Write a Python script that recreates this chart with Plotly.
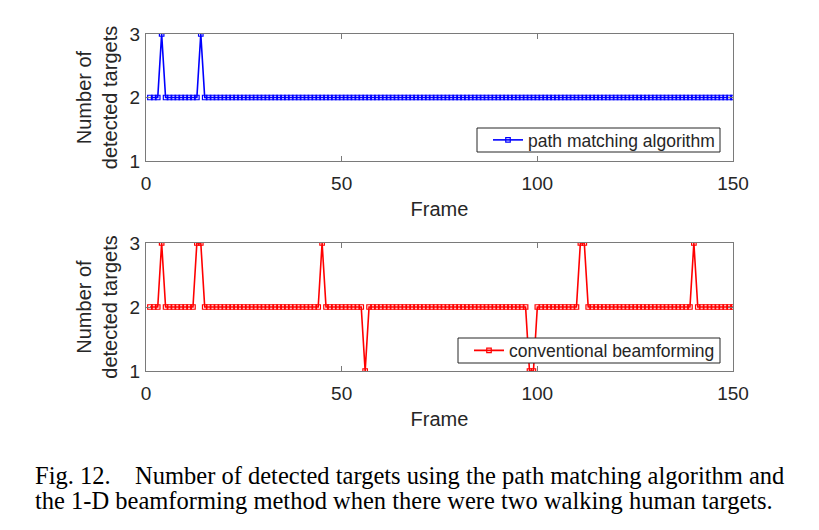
import plotly.graph_objects as go

frames = list(range(1, 151))

path_matching = [
    2, 2, 2, 3, 2, 2, 2, 2, 2, 2, 2, 2, 2, 3, 2, 2, 2, 2, 2, 2, 2, 2, 2, 2, 2,
    2, 2, 2, 2, 2, 2, 2, 2, 2, 2, 2, 2, 2, 2, 2, 2, 2, 2, 2, 2, 2, 2, 2, 2, 2,
    2, 2, 2, 2, 2, 2, 2, 2, 2, 2, 2, 2, 2, 2, 2, 2, 2, 2, 2, 2, 2, 2, 2, 2, 2,
    2, 2, 2, 2, 2, 2, 2, 2, 2, 2, 2, 2, 2, 2, 2, 2, 2, 2, 2, 2, 2, 2, 2, 2, 2,
    2, 2, 2, 2, 2, 2, 2, 2, 2, 2, 2, 2, 2, 2, 2, 2, 2, 2, 2, 2, 2, 2, 2, 2, 2,
    2, 2, 2, 2, 2, 2, 2, 2, 2, 2, 2, 2, 2, 2, 2, 2, 2, 2, 2, 2, 2, 2, 2, 2, 2,
]

conventional = [
    2, 2, 2, 3, 2, 2, 2, 2, 2, 2, 2, 2, 3, 3, 2, 2, 2, 2, 2, 2, 2, 2, 2, 2, 2,
    2, 2, 2, 2, 2, 2, 2, 2, 2, 2, 2, 2, 2, 2, 2, 2, 2, 2, 2, 3, 2, 2, 2, 2, 2,
    2, 2, 2, 2, 2, 1, 2, 2, 2, 2, 2, 2, 2, 2, 2, 2, 2, 2, 2, 2, 2, 2, 2, 2, 2,
    2, 2, 2, 2, 2, 2, 2, 2, 2, 2, 2, 2, 2, 2, 2, 2, 2, 2, 2, 2, 2, 2, 1, 1, 2,
    2, 2, 2, 2, 2, 2, 2, 2, 2, 2, 3, 3, 2, 2, 2, 2, 2, 2, 2, 2, 2, 2, 2, 2, 2,
    2, 2, 2, 2, 2, 2, 2, 2, 2, 2, 2, 2, 2, 2, 3, 2, 2, 2, 2, 2, 2, 2, 2, 2, 2,
]

x_ticks = [0, 50, 100, 150]
y_ticks = [1, 2, 3]

W, H = 819, 530
OFF = 8  # page body margin in the browser
AX_COLOR = "#7a7a7a"
TXT_COLOR = "#262626"
SANS = "Liberation Sans, Arial, sans-serif"

# plot-area box in target-screen pixels
PL, PR, PT, PB = 146, 733, 34, 371
PW, PH = PR - PL, PB - PT

def fy(py):
    """screen pixel y -> paper fraction of the plot area"""
    return (PB - py) / PH

def fx(px):
    return (px - PL) / PW

fig = go.Figure()
fig.add_trace(go.Scatter(
    x=frames, y=path_matching, mode="lines+markers", name="path matching algorithm",
    line=dict(color="#0000ff", width=1.6),
    marker=dict(symbol="square-open", size=4.5, color="#0000ff", line=dict(width=1.2)),
    xaxis="x", yaxis="y", legend="legend",
))
fig.add_trace(go.Scatter(
    x=frames, y=conventional, mode="lines+markers", name="conventional beamforming",
    line=dict(color="#ff0000", width=1.6),
    marker=dict(symbol="square-open", size=4.5, color="#ff0000", line=dict(width=1.2)),
    xaxis="x2", yaxis="y2", legend="legend2",
))

top_dom = [fy(161), 1.0]
bot_dom = [0.0, fy(243)]

def xaxis(anchor):
    return dict(
        domain=[0, 1], anchor=anchor, range=[0, 150],
        tickvals=x_ticks, ticks="inside", ticklen=5, tickcolor=AX_COLOR,
        showline=True, linecolor=AX_COLOR, linewidth=1, mirror="ticks",
        showgrid=False, zeroline=False, automargin=False,
        ticklabelstandoff=5,
        tickfont=dict(family=SANS, size=19, color=TXT_COLOR),
        title=dict(text="Frame", font=dict(family=SANS, size=20, color=TXT_COLOR), standoff=9),
    )

def yaxis(dom, anchor):
    return dict(
        domain=dom, anchor=anchor, range=[1, 3],
        tickvals=y_ticks, ticks="inside", ticklen=5, tickcolor=AX_COLOR,
        showline=True, linecolor=AX_COLOR, linewidth=1, mirror="ticks",
        showgrid=False, zeroline=False, automargin=False,
        ticklabelstandoff=1,
        tickfont=dict(family=SANS, size=19, color=TXT_COLOR),
        title=dict(text="Number of<br>detected targets",
                   font=dict(family=SANS, size=20, color=TXT_COLOR), standoff=6),
    )

legend_common = dict(
    bgcolor="rgba(0,0,0,0)", borderwidth=0,
    font=dict(family=SANS, size=17.5, color=TXT_COLOR),
    xanchor="right", yanchor="middle", xref="paper", yref="paper",
    itemwidth=30, tracegroupgap=0,
)

# legend frames (opaque white boxes over the data, like the original)
legend_boxes = [(477, 720, 128, 152), (458, 720, 338, 363)]

ml = PL - OFF
mt = PT - OFF
fig.update_layout(
    width=W, height=H,
    margin=dict(l=ml, r=W - ml - PW, t=mt, b=H - mt - PH, autoexpand=False),
    paper_bgcolor="white", plot_bgcolor="white",
    xaxis=xaxis("y"), yaxis=yaxis(top_dom, "x"),
    xaxis2=xaxis("y2"), yaxis2=yaxis(bot_dom, "x2"),
    legend=dict(x=fx(720), y=fy(140), **legend_common),
    legend2=dict(x=fx(720), y=fy(350.5), **legend_common),
    showlegend=True,
)
for (bx0, bx1, by0, by1) in legend_boxes:
    fig.add_shape(
        type="rect", xref="paper", yref="paper",
        x0=fx(bx0), x1=fx(bx1), y0=fy(by1), y1=fy(by0),
        fillcolor="white", line=dict(color="#262626", width=1), layer="above",
    )

SERIF = "Liberation Serif, Times New Roman, serif"
fig.add_annotation(
    text="Fig. 12.\u2002\u2002Number of detected targets using the path matching algorithm and",
    x=fx(33), y=fy(475), xref="paper", yref="paper", xanchor="left", yanchor="middle",
    showarrow=False, font=dict(family=SERIF, size=24.5, color="black"),
)
fig.add_annotation(
    text="the 1-D beamforming method when there were two walking human targets.",
    x=fx(33), y=fy(500), xref="paper", yref="paper", xanchor="left", yanchor="middle",
    showarrow=False, font=dict(family=SERIF, size=24.5, color="black"),
)

fig.write_html("out.html")
